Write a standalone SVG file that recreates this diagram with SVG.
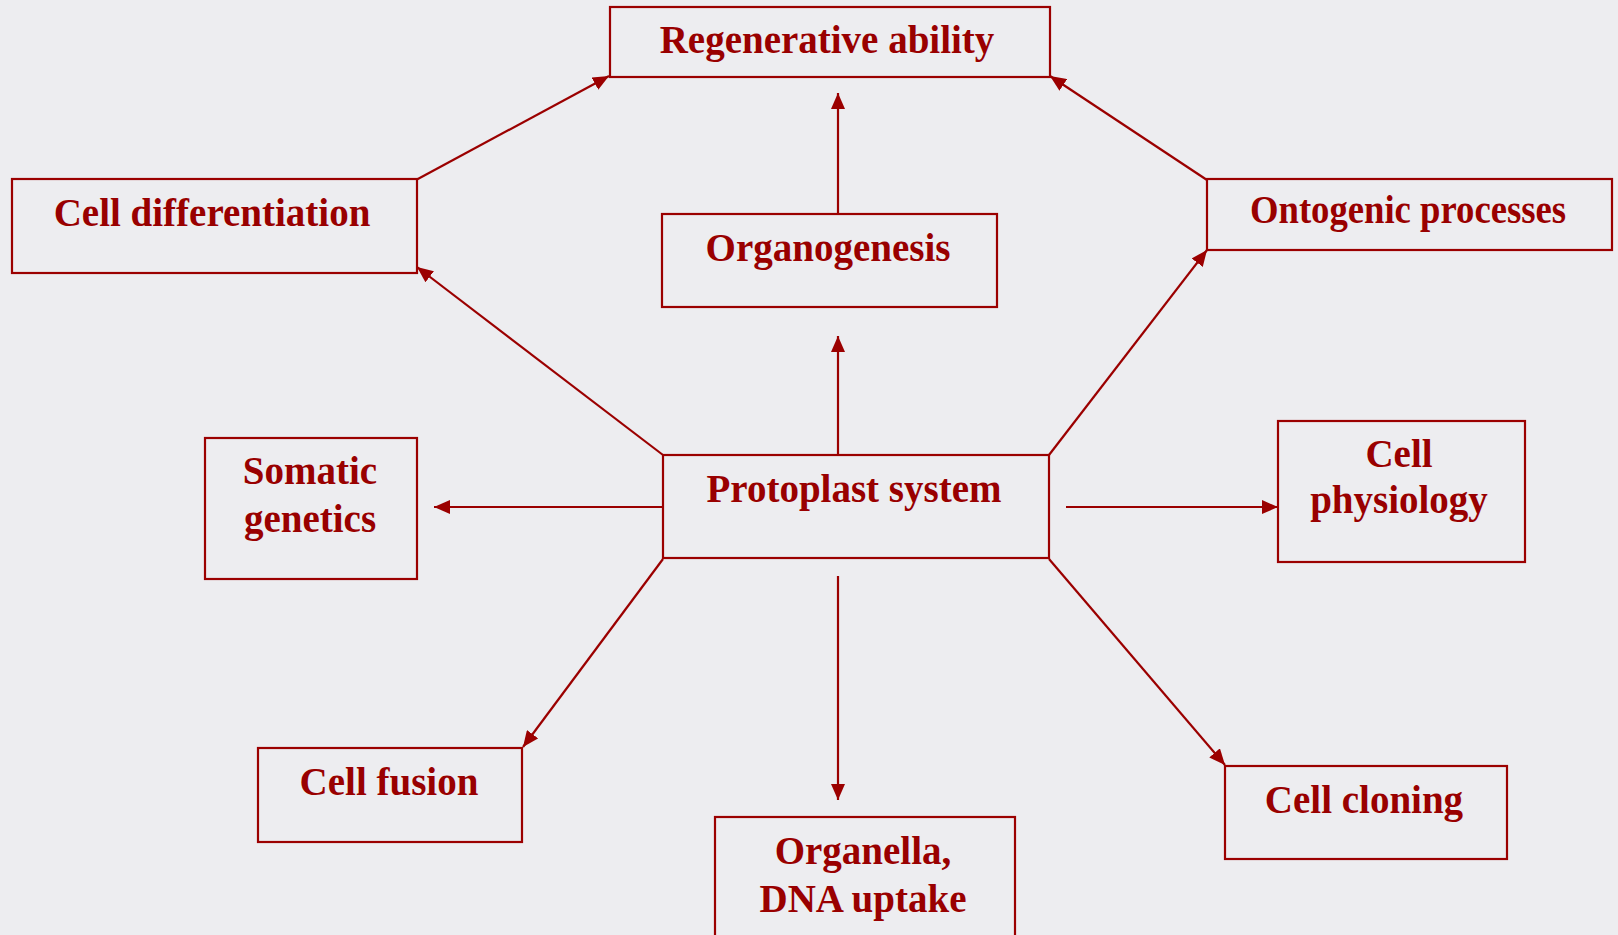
<svg xmlns="http://www.w3.org/2000/svg" width="1618" height="935" viewBox="0 0 1618 935">
<defs>
<style>
.box{fill:none;stroke:#9b0000;stroke-width:2.2}
.lbl{font-family:"Liberation Serif","Times New Roman",serif;font-weight:bold;font-size:39px;fill:#990000;text-anchor:middle}
.con{stroke:#9b0000;stroke-width:2.2;fill:none;marker-end:url(#ah)}
</style>
<marker id="ah" markerUnits="userSpaceOnUse" markerWidth="16" markerHeight="14" refX="16" refY="7" orient="auto">
<path d="M0,0 L16,7 L0,14 Z" fill="#9b0000"/>
</marker>
</defs>
<rect width="1618" height="935" fill="#ededf0"/>
<g id="connectors">
<line class="con" x1="416" y1="180" x2="609" y2="76"/>
<line class="con" x1="1207" y1="180" x2="1050" y2="76"/>
<line class="con" x1="838" y1="213" x2="838" y2="93"/>
<line class="con" x1="838" y1="455" x2="838" y2="336"/>
<line class="con" x1="663" y1="455" x2="417" y2="267"/>
<line class="con" x1="1049" y1="455" x2="1207" y2="250"/>
<line class="con" x1="663" y1="507" x2="434" y2="507"/>
<line class="con" x1="1066" y1="507" x2="1278" y2="507"/>
<line class="con" x1="663" y1="559" x2="523" y2="747"/>
<line class="con" x1="838" y1="576" x2="838" y2="800"/>
<line class="con" x1="1049" y1="559" x2="1225" y2="765"/>
</g>
<g id="regenerative">
<rect class="box" x="610" y="7" width="440" height="70"/>
<text class="lbl" x="827" y="53">Regenerative ability</text>
</g>
<g id="organogenesis">
<rect class="box" x="662" y="214" width="335" height="93"/>
<text class="lbl" x="828" y="261">Organogenesis</text>
</g>
<g id="cell-differentiation">
<rect class="box" x="12" y="179" width="405" height="94"/>
<text class="lbl" x="212" y="226">Cell differentiation</text>
</g>
<g id="ontogenic">
<rect class="box" x="1207" y="179" width="405" height="71"/>
<text class="lbl" x="1408" y="223" textLength="316" lengthAdjust="spacingAndGlyphs">Ontogenic processes</text>
</g>
<g id="protoplast">
<rect class="box" x="663" y="455" width="386" height="103"/>
<text class="lbl" x="854" y="502">Protoplast system</text>
</g>
<g id="somatic">
<rect class="box" x="205" y="438" width="212" height="141"/>
<text class="lbl" x="310" y="484">Somatic</text>
<text class="lbl" x="310" y="532">genetics</text>
</g>
<g id="physiology">
<rect class="box" x="1278" y="421" width="247" height="141"/>
<text class="lbl" x="1399" y="467">Cell</text>
<text class="lbl" x="1399" y="513">physiology</text>
</g>
<g id="organella">
<rect class="box" x="715" y="817" width="300" height="125"/>
<text class="lbl" x="863" y="864">Organella,</text>
<text class="lbl" x="863" y="912">DNA uptake</text>
</g>
<g id="fusion">
<rect class="box" x="258" y="748" width="264" height="94"/>
<text class="lbl" x="389" y="795">Cell fusion</text>
</g>
<g id="cloning">
<rect class="box" x="1225" y="766" width="282" height="93"/>
<text class="lbl" x="1364" y="813">Cell cloning</text>
</g>
</svg>
